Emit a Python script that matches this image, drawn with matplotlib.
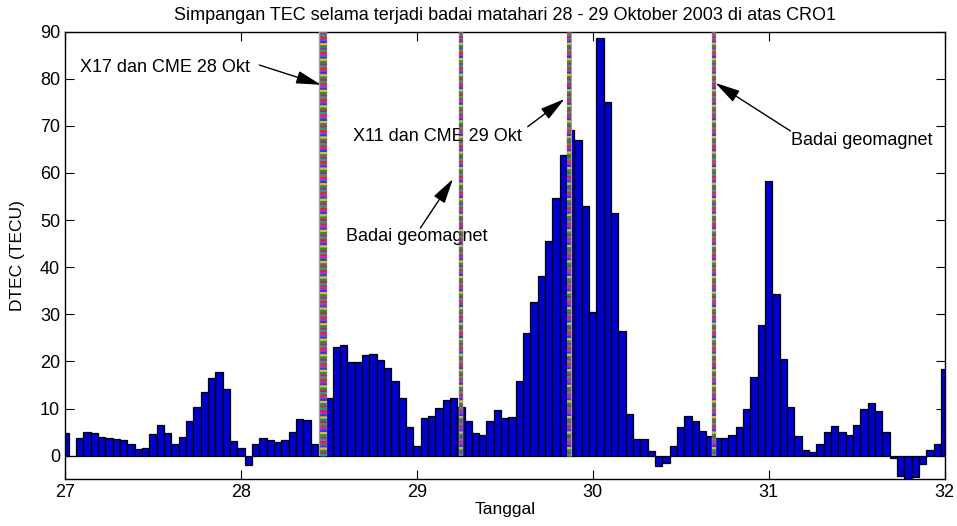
import numpy as np
import matplotlib
matplotlib.use('Agg')
import matplotlib.pyplot as plt

plt.rcParams['font.family'] = ['Liberation Sans', 'DejaVu Sans']
plt.rcParams['lines.scale_dashes'] = False

# hourly DTEC values, 27 Okt 00 UT .. 32 (1 Nov) 00 UT
dtec = [4.7, 0, 3.8, 5.0, 4.8, 4.0, 3.8, 3.5, 3.3, 2.5, 1.4, 1.6,
        4.5, 6.5, 4.8, 2.5, 4.0, 7.4, 10.4, 13.4, 16.5, 17.7, 14.1, 3.0,
        1.6, -2.0, 2.5, 3.7, 3.3, 2.8, 3.3, 5.0, 7.7, 7.5, 2.5, 2.0,
        12.2, 23.1, 23.5, 19.8, 19.8, 21.3, 21.6, 20.3, 18.6, 15.9, 12.2, 6.0,
        2.1, 8.0, 8.4, 10.2, 11.7, 12.2, 10.4, 7.3, 4.8, 4.3, 7.4, 9.7,
        8.0, 8.2, 15.9, 26.0, 32.6, 38.1, 45.5, 54.6, 63.8, 69.1, 67.0, 52.9,
        30.4, 88.7, 75.1, 51.4, 26.5, 8.8, 3.5, 3.5, 0.9, -2.2, -1.6, 2.1,
        6.0, 8.4, 7.4, 5.3, 4.1, 3.8, 3.8, 4.3, 6.1, 9.9, 16.7, 27.8,
        58.3, 34.3, 20.6, 10.4, 4.1, 1.1, 0.7, 2.5, 5.0, 6.3, 5.0, 4.3,
        6.5, 9.9, 11.2, 9.5, 5.0, -0.4, -4.3, -5.5, -4.5, -1.8, 1.1, 2.5,
        18.4]
tanggal = 27 + np.arange(len(dtec)) / 24.0

# event markers (day of Oct 2003) and their widths in points
event_x = [28.465, 29.253, 29.863, 30.688]
event_lw = [6.0, 3.2, 3.6, 3.2]
marker_colors = ['#1f9c8c', '#d62728', '#c020c0', '#2040e0', '#d8c020', '#2a8a3a', '#a03060']

fig = plt.figure(figsize=(9.57, 5.26), dpi=100)
ax = fig.add_axes([0.068, 0.089, 0.919, 0.851])

ax.bar(tanggal, dtec, width=1 / 24.0, color='#0000cc', edgecolor='black', linewidth=0.9)

n = len(marker_colors)
seg = 1.6
for x, lw in zip(event_x, event_lw):
    ax.plot([x, x], [0, 90], color='#a0a0a0', lw=lw, solid_capstyle='butt', zorder=3)
    for i, c in enumerate(marker_colors):
        ax.plot([x, x], [0, 90], color=c, lw=lw * 0.8, dash_capstyle='butt',
                linestyle=(i * seg, (seg, seg * (n - 1))), zorder=4)

arrow = dict(arrowstyle='-|>,head_length=0.85,head_width=0.22', color='black', lw=1,
             mutation_scale=18, shrinkA=0, shrinkB=0)
fs = 13
ax.text(27.085, 82.4, 'X17 dan CME 28 Okt', fontsize=fs, va='center', ha='left')
ax.annotate('', xy=(28.455, 78.7), xytext=(28.104, 82.9), arrowprops=arrow)
ax.text(28.638, 67.8, 'X11 dan CME 29 Okt', fontsize=fs, va='center', ha='left')
ax.annotate('', xy=(29.84, 75.7), xytext=(29.63, 69.8), arrowprops=arrow)
ax.text(28.597, 46.5, 'Badai geomagnet', fontsize=fs, va='center', ha='left')
ax.annotate('', xy=(29.205, 58.7), xytext=(29.02, 48.3), arrowprops=arrow)
ax.text(31.128, 66.8, 'Badai geomagnet', fontsize=fs, va='center', ha='left')
ax.annotate('', xy=(30.697, 79.1), xytext=(31.124, 68.9), arrowprops=arrow)

ax.set_xlim(27, 32)
ax.set_ylim(-5, 90)
ax.set_xticks([27, 28, 29, 30, 31, 32])
ax.set_yticks(np.arange(0, 91, 10))
ax.tick_params(direction='in', top=True, right=True, labelsize=13, length=6.5, width=0.8)
for s in ax.spines.values():
    s.set_linewidth(1.0)

ax.set_title('Simpangan TEC selama terjadi badai matahari 28 - 29 Oktober 2003 di atas CRO1',
             fontsize=13, pad=8)
ax.set_xlabel('Tanggal', fontsize=12.5, labelpad=1)
ax.set_ylabel('DTEC (TECU)', fontsize=12.5, labelpad=11)

fig.savefig('out.png', dpi=100)
